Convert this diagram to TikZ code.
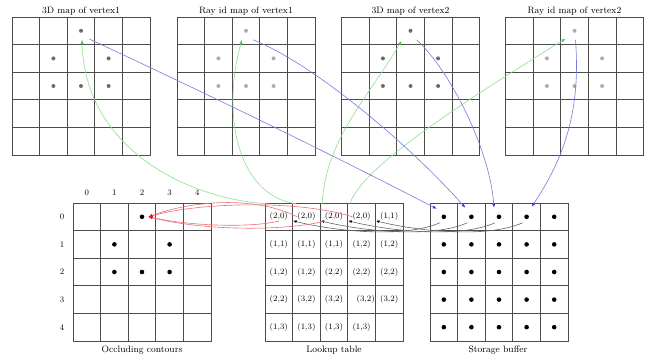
\documentclass[tikz,border=0pt]{standalone}
\usetikzlibrary{arrows.meta,calc}
\definecolor{gline}{RGB}{140,225,140}
\definecolor{gtip}{RGB}{60,200,60}
\definecolor{bline}{RGB}{120,120,225}
\definecolor{btip}{RGB}{50,50,220}
\definecolor{rline}{RGB}{235,110,120}
\definecolor{rtip}{RGB}{230,20,30}
\begin{document}
\begin{tikzpicture}[x=1pt,y=-1pt,
  cell/.style={draw=black!70,line width=0.75pt,minimum size=27.6pt,inner sep=0pt,outer sep=0pt},
  ttl/.style={font=\fontsize{9.3}{11}\selectfont,anchor=base,inner sep=0pt},
  lbl/.style={font=\fontsize{8.5}{10}\selectfont,inner sep=0pt},
  ent/.style={font=\fontsize{8.3}{10}\selectfont,inner sep=0pt},
  dotA/.style={circle,fill=black!58,inner sep=0pt,minimum size=4pt},
  dotB/.style={circle,fill=black!32,inner sep=0pt,minimum size=4pt},
  dotK/.style={circle,fill=black,inner sep=0pt,minimum size=4.6pt},
  garrow/.style={draw=gline,line width=0.6pt,-{Latex[length=4pt,width=3pt,color=gtip]}},
  barrow/.style={draw=bline,line width=0.6pt,-{Latex[length=4pt,width=3pt,color=btip]}},
  rarrow/.style={draw=rline,line width=0.6pt,-{Latex[length=4pt,width=3.2pt,color=rtip]}},
  karrow/.style={draw=black!60,line width=0.6pt,-{Latex[length=3.5pt,width=2.8pt,color=black]}}
 ]
\useasboundingbox (0,0) rectangle (649,363);

% ---------- top grids ----------
\foreach \g/\x in {A/12,B/177,C/341.5,D/505.5}{
  \foreach \r in {0,...,4}{
    \foreach \c in {0,...,4}{
      \node[cell] (\g-\r-\c) at (\x+13.8+27.6*\c,17+13.8+27.6*\r) {};
    }
  }
}
\foreach \g/\s in {A/dotA,B/dotB,C/dotA,D/dotB}{
  \foreach \r/\c in {0/2,1/1,1/3,2/1,2/2,2/3}{
    \node[\s] (\g-d-\r-\c) at (\g-\r-\c) {};
  }
}
\node[ttl] (tA) at (81,14) {3D map of vertex1};
\node[ttl] (tB) at (246,14) {Ray id map of vertex1};
\node[ttl] (tC) at (410.5,14) {3D map of vertex2};
\node[ttl] (tD) at (574.5,14) {Ray id map of vertex2};

% ---------- bottom grids ----------
\foreach \g/\x in {O/73,L/265,S/430}{
  \foreach \r in {0,...,4}{
    \foreach \c in {0,...,4}{
      \node[cell] (\g-\r-\c) at (\x+13.8+27.6*\c,203+13.8+27.6*\r) {};
    }
  }
}
% occluding contours
\foreach \c in {0,...,4}{
  \node[lbl] (Oc\c) at (73+13.8+27.6*\c,193) {\c};
}
\foreach \r in {0,...,4}{
  \node[lbl] (Or\r) at (62,203+13.8+27.6*\r) {\r};
}
\foreach \r/\c in {0/2,1/1,1/3,2/1,2/2,2/3}{
  \node[dotK] (O-d-\r-\c) at (O-\r-\c) {};
}
\node[ttl] (tO) at (142,353) {Occluding contours};

% lookup table
\foreach \r/\c/\t in {0/0/{(2,0)},0/1/{(2,0)},0/2/{(2,0)},0/3/{(2,0)},0/4/{(1,1)},
  1/0/{(1,1)},1/1/{(1,1)},1/2/{(1,1)},1/3/{(1,2)},1/4/{(1,2)},
  2/0/{(1,2)},2/1/{(1,2)},2/2/{(2,2)},2/3/{(2,2)},2/4/{(2,2)},
  3/0/{(2,2)},3/1/{(3,2)},3/2/{(3,2)},3/4/{(3,2)},
  4/0/{(1,3)},4/1/{(1,3)},4/2/{(1,3)},4/3/{(1,3)}}{
  \node[ent] (L-t-\r-\c) at (L-\r-\c) {\t};
}
\node[ent,anchor=east] (L-t-3-3) at ($(L-3-3.east)+(-0.5,0)$) {(3,2)};
\node[ttl] (tL) at (334,353) {Lookup table};

% storage buffer
\foreach \r in {0,...,4}{
  \foreach \c in {0,...,4}{
    \node[dotK] (S-d-\r-\c) at (S-\r-\c) {};
  }
}
\node[ttl] (tS) at (498,353) {Storage buffer};

% ---------- green arrows (lookup -> top maps) ----------
\draw[garrow] ($(L-0-0.north west)+(5,1)$) .. controls (190,200) and (85,150) .. ($(A-d-0-2)+(1,9)$);
\draw[garrow] ($(L-0-1.north west)+(4,1)$) .. controls (235,195) and (222,110) .. ($(B-d-0-2)+(-4,9)$);
\draw[garrow] ($(L-0-2.north west)+(2,1)$) .. controls (325,140) and (370,95) .. ($(C-d-0-2)+(-9,10)$);
\draw[garrow] ($(L-0-3.north west)+(2,1)$) .. controls (360,170) and (450,110) .. ($(D-d-0-2)+(-9,8)$);

% ---------- blue arrows (top maps -> storage) ----------
\draw[barrow] ($(A-d-0-2)+(8,8)$) .. controls (205,93) and (321,149) .. ($(S-d-0-0)+(-7,-8)$);
\draw[barrow] ($(B-d-0-2)+(7,9)$) .. controls (310,62) and (405,140) .. ($(S-d-0-1)+(-6,-9)$);
\draw[barrow] ($(C-d-0-2)+(6,9)$) .. controls (450,70) and (490,150) .. ($(S-d-0-2)+(-5,-9)$);
\draw[barrow] ($(D-d-0-2)+(1,9)$) .. controls (580,100) and (570,150) .. ($(S-d-0-3)+(5,-10)$);

% ---------- black arrows (storage -> lookup) ----------
\foreach \c in {0,...,3}{
  \draw[karrow] ($(S-d-0-\c)+(-4,6)$) .. controls ($(S-d-0-\c)+(-40,22)$) and ($(L-0-\c.east)+(40,14)$) .. ($(L-0-\c.east)+(0.5,4)$);
}

% ---------- red arrows (lookup -> occluding contour) ----------
\draw[rarrow] (L-t-0-1.west) .. controls (260,198) and (200,198) .. ($(O-d-0-2.east)+(4,0)$);
\draw[rarrow] (L-t-0-3.west) .. controls (300,200) and (200,202) .. ($(O-d-0-2.east)+(4,0)$);
\draw[rarrow] (L-t-0-0.south) .. controls (250,228) and (190,226) .. ($(O-d-0-2.east)+(4,0)$);
\draw[rarrow] (L-t-0-2.south west) .. controls (280,232) and (200,230) .. ($(O-d-0-2.east)+(4,0)$);
\end{tikzpicture}
\end{document}
